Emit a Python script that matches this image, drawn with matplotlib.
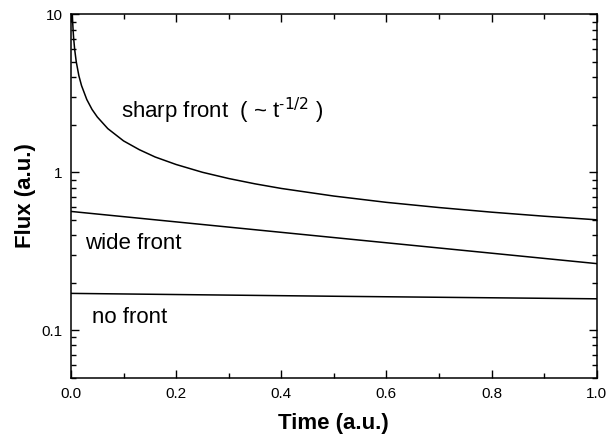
import matplotlib
matplotlib.use("Agg")
import matplotlib.pyplot as plt
from matplotlib.ticker import FixedLocator, LogLocator, NullFormatter, FuncFormatter, MultipleLocator

plt.rcParams['font.family'] = ['Liberation Sans', 'DejaVu Sans']

# Sharp front: flux falls off roughly as t^(-1/2)
t_sharp = [0.0025, 0.003, 0.004, 0.005, 0.007, 0.01, 0.015, 0.02, 0.03, 0.04,
           0.05, 0.07, 0.1, 0.13, 0.16, 0.2, 0.25, 0.3, 0.35, 0.4, 0.5, 0.6,
           0.7, 0.8, 0.9, 1.0]
flux_sharp = [10.0, 9.13, 7.91, 7.07, 5.98, 5.0, 4.08, 3.54, 2.89, 2.5,
              2.24, 1.89, 1.58, 1.39, 1.25, 1.12, 1.0, 0.913, 0.845, 0.79,
              0.707, 0.645, 0.598, 0.559, 0.527, 0.50]

# Wide front: slow exponential-like decay
t_wide = [0.0, 0.5, 1.0]
flux_wide = [0.565, 0.386, 0.264]

# No front: nearly constant flux
t_none = [0.0, 0.5, 1.0]
flux_none = [0.171, 0.164, 0.158]

fig = plt.figure(figsize=(6.08, 4.36), dpi=100)
ax = fig.add_axes([0.1168, 0.1337, 0.9814 - 0.1168, 0.967 - 0.1337])

for t, f in [(t_sharp, flux_sharp), (t_wide, flux_wide), (t_none, flux_none)]:
    ax.plot(t, f, color='black', lw=1.1)

ax.set_yscale('log')
ax.set_xlim(0, 1)
ax.set_ylim(0.05, 10)

ax.xaxis.set_major_locator(MultipleLocator(0.2))
ax.xaxis.set_minor_locator(MultipleLocator(0.1))
ax.xaxis.set_major_formatter(FuncFormatter(lambda v, p: f"{v:.1f}"))
ax.yaxis.set_major_locator(FixedLocator([0.1, 1, 10]))
ax.yaxis.set_major_formatter(FuncFormatter(lambda v, p: {0.1: "0.1", 1: "1", 10: "10"}.get(round(v, 3), "")))
ax.yaxis.set_minor_locator(LogLocator(base=10, subs=range(2, 10)))
ax.yaxis.set_minor_formatter(NullFormatter())

ax.tick_params(which='both', direction='in', top=True, right=True, width=1.0, labelsize=11)
ax.tick_params(which='major', length=6)
ax.tick_params(axis='x', which='major', pad=6.5)
ax.tick_params(axis='y', which='major', pad=6)
ax.tick_params(which='minor', length=3.5)
for s in ax.spines.values():
    s.set_linewidth(1.1)

ax.set_xlabel('Time (a.u.)', fontsize=16, fontweight='bold', labelpad=9)
ax.set_ylabel('Flux (a.u.)', fontsize=16, fontweight='bold', labelpad=4)

ax.text(0.0945, 2.19, 'sharp front  ( ~ t$^{\\mathregular{\u2010}1/2}$ )', fontsize=16, va='baseline')
ax.text(0.0266, 0.328, 'wide front', fontsize=16, va='baseline')
ax.text(0.0405, 0.111, 'no front', fontsize=16, va='baseline')

fig.savefig('out.png', dpi=100)
